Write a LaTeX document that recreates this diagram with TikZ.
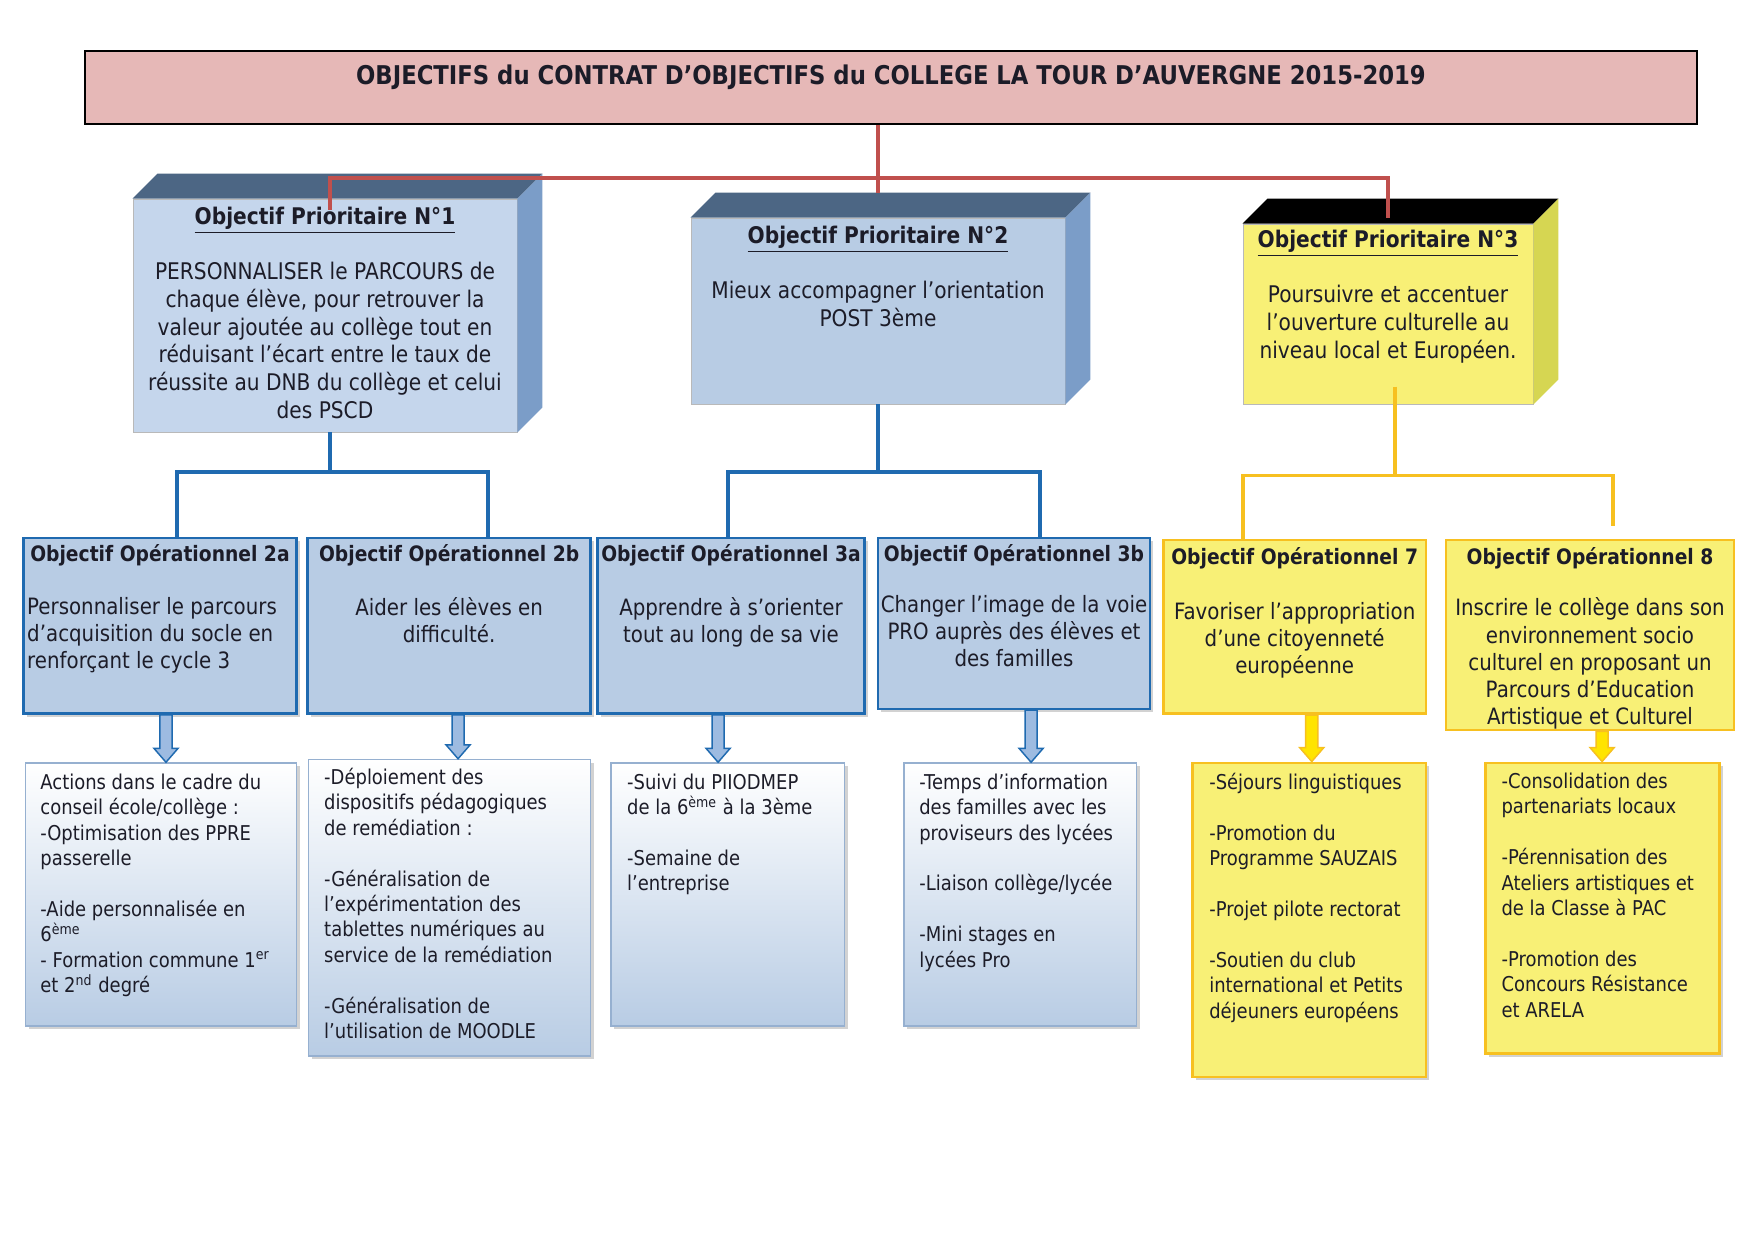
\documentclass[tikz,border=0pt]{standalone}
\usepackage{fontspec}
\setmainfont{DejaVu Sans}[FakeStretch=0.88]
\usetikzlibrary{positioning,calc,fit,shadows}

\definecolor{titrefond}{RGB}{230,184,183}
\definecolor{rouge}{RGB}{192,80,77}
\definecolor{bleuface}{RGB}{197,214,236}
\definecolor{bleuface2}{RGB}{184,204,228}
\definecolor{bleudessus}{RGB}{76,102,132}
\definecolor{bleucote}{RGB}{123,157,200}
\definecolor{bleutrait}{RGB}{31,106,176}
\definecolor{bleubord}{RGB}{150,176,208}
\definecolor{bleufleche}{RGB}{157,187,225}
\definecolor{jaune}{RGB}{248,240,118}
\definecolor{jaunecote}{RGB}{214,214,82}
\definecolor{jaunetrait}{RGB}{247,192,32}
\definecolor{jaunefleche}{RGB}{255,228,0}
\definecolor{encre}{RGB}{28,28,40}

\tikzset{
  titrebox/.style={draw=black, line width=0.8pt, fill=titrefond, inner sep=0pt},
  face/.style={draw=gray!55, line width=0.4pt, inner sep=0pt},
  opbleu/.style={draw=bleutrait, line width=1.2pt, fill=bleuface2, inner sep=0pt,
    drop shadow={shadow xshift=1.6pt, shadow yshift=-1.6pt, opacity=0.35}},
  opjaune/.style={draw=jaunetrait, line width=1.4pt, fill=jaune, inner sep=0pt},
  actbleu/.style={draw=bleubord, line width=0.7pt, top color=white, bottom color=bleuface2, inner sep=0pt,
    drop shadow={shadow xshift=1.6pt, shadow yshift=-1.6pt, opacity=0.35}},
  actjaune/.style={draw=jaunetrait, line width=1.4pt, fill=jaune, inner sep=0pt,
    drop shadow={shadow xshift=1.6pt, shadow yshift=-1.6pt, opacity=0.35}},
  titretexte/.style={inner sep=0pt, text=encre, font=\fontsize{12.4}{14}\selectfont\bfseries},
  ptexte/.style={inner sep=0pt, align=center, text=encre, font=\fontsize{11}{13.3}\selectfont},
  optitre/.style={inner sep=0pt, text=encre, font=\fontsize{10.2}{13}\selectfont\bfseries},
  optexte/.style={inner sep=0pt, text=encre, font=\fontsize{10.8}{13}\selectfont},
  acttexte/.style={inner sep=0pt, align=left, anchor=north west, text=encre, font=\fontsize{9.8}{12.2}\selectfont},
  rougetrait/.style={draw=rouge, line width=1.9pt},
  bleuligne/.style={draw=bleutrait, line width=1.9pt},
  jauneligne/.style={draw=jaunetrait, line width=1.9pt},
  flechebleue/.style={draw=bleutrait, line width=0.7pt, fill=bleufleche},
  flechejaune/.style={draw=jaunetrait, line width=0.7pt, fill=jaunefleche},
}

\begin{document}
\begin{tikzpicture}[x=0.48pt, y=-0.48pt]
\path[use as bounding box, fill=white] (0,0) rectangle (1754,1240);

% titre
\node[titrebox, fit={(85,51) (1697,124)}] (titre) {};
\node[titretexte, below=7pt of titre.north] (titre-t)
  {OBJECTIFS du CONTRAT D’OBJECTIFS du COLLEGE LA TOUR D’AUVERGNE 2015-2019};

% objectifs prioritaires (blocs en relief)
\node[face, fill=bleuface, fit={(133,199) (517,432)}] (p1) {};
\fill[bleudessus] (p1.north west) -- ++(25,-25) -- ($(p1.north east)+(25,-25)$) -- (p1.north east) -- cycle;
\fill[bleucote] (p1.north east) -- ++(25,-25) -- ($(p1.south east)+(25,-25)$) -- (p1.south east) -- cycle;
\node[ptexte, below=3.8pt of p1.north] (p1-t)
  {\underline{\textbf{Objectif Prioritaire N°1}}\\[13.3pt]
   PERSONNALISER le PARCOURS de\\chaque élève, pour retrouver la\\valeur ajoutée au collège tout en\\
   réduisant l’écart entre le taux de\\réussite au DNB du collège et celui\\des PSCD};

\node[face, fill=bleuface2, fit={(691,218) (1065,404)}] (p2) {};
\fill[bleudessus] (p2.north west) -- ++(25,-25) -- ($(p2.north east)+(25,-25)$) -- (p2.north east) -- cycle;
\fill[bleucote] (p2.north east) -- ++(25,-25) -- ($(p2.south east)+(25,-25)$) -- (p2.south east) -- cycle;
\node[ptexte, below=3.8pt of p2.north] (p2-t)
  {\underline{\textbf{Objectif Prioritaire N°2}}\\[13.3pt]
   Mieux accompagner l’orientation\\POST 3ème};

\node[face, fill=jaune, fit={(1243,224) (1533,404)}] (p3) {};
\fill[black] (p3.north west) -- ++(25,-25) -- ($(p3.north east)+(25,-25)$) -- (p3.north east) -- cycle;
\fill[jaunecote] (p3.north east) -- ++(25,-25) -- ($(p3.south east)+(25,-25)$) -- (p3.south east) -- cycle;
\node[ptexte, below=2.9pt of p3.north] (p3-t)
  {\underline{\textbf{Objectif Prioritaire N°3}}\\[13.3pt]
   Poursuivre et accentuer\\l’ouverture culturelle au\\niveau local et Européen.};

% objectifs operationnels
\node[opbleu, fit={(23.5,538) (296.4,713.7)}] (o2a) {};
\node[opbleu, fit={(307.6,538) (590.6,713.7)}] (o2b) {};
\node[opbleu, fit={(597.3,538) (864.7,713.7)}] (o3a) {};
\node[opbleu, fit={(878,538) (1150,709)}] (o3b) {};
\node[opjaune, fit={(1163.3,540) (1426,713.7)}] (o7) {};
\node[opjaune, fit={(1446,540) (1734,730)}] (o8) {};

\node[optitre, below=3.4pt of o2a.north] (o2a-t) {Objectif Opérationnel 2a};
\node[optexte, align=left, anchor=north west] (o2a-b) at ([xshift=2.2pt, yshift=-28.8pt]o2a.north west)
  {Personnaliser le parcours\\d’acquisition du socle en\\renforçant le cycle 3};
\node[optexte, align=center, below=3.4pt of o2b.north] (o2b-t)
  {\textbf{\fontsize{10.2}{13}\selectfont Objectif Opérationnel 2b}\\[13pt]Aider les élèves en\\difficulté.};
\node[optexte, align=center, below=3.4pt of o3a.north] (o3a-t)
  {\textbf{\fontsize{10.2}{13}\selectfont Objectif Opérationnel 3a}\\[13pt]Apprendre à s’orienter\\tout au long de sa vie};
\node[optexte, align=center, below=3.4pt of o3b.north] (o3b-t)
  {\textbf{\fontsize{10.2}{13}\selectfont Objectif Opérationnel 3b}\\[11.5pt]Changer l’image de la voie\\PRO auprès des élèves et\\des familles};
\node[optexte, align=center, below=4.3pt of o7.north] (o7-t)
  {\textbf{\fontsize{10.2}{13}\selectfont Objectif Opérationnel 7}\\[13pt]Favoriser l’appropriation\\d’une citoyenneté\\européenne};
\node[optexte, align=center, below=4.3pt of o8.north] (o8-t)
  {\textbf{\fontsize{10.2}{13}\selectfont Objectif Opérationnel 8}\\[11.5pt]Inscrire le collège dans son\\environnement socio\\culturel en proposant un\\Parcours d’Education\\Artistique et Culturel};

% actions
\node[actbleu, fit={(25.7,763) (296.4,1025.8)}] (a1) {};
\node[actbleu, fit={(308.7,759.5) (590.6,1056)}] (a2) {};
\node[actbleu, fit={(610.8,763) (844.5,1025.8)}] (a3) {};
\node[actbleu, fit={(903.8,763) (1136.5,1025.8)}] (a4) {};
\node[actjaune, fit={(1192.4,763) (1426,1077)}] (a5) {};
\node[actjaune, fit={(1485.5,763) (1719.3,1053.7)}] (a6) {};

\node[acttexte] (a1-t) at ([xshift=7.2pt, yshift=-5.3pt]a1.north west)
  {Actions dans le cadre du\\conseil école/collège :\\-Optimisation des PPRE\\passerelle\\[12.2pt]
   -Aide personnalisée en\\6\textsuperscript{ème}\\- Formation commune 1\textsuperscript{er}\\et 2\textsuperscript{nd} degré};
\node[acttexte] (a2-t) at ([xshift=7.6pt, yshift=-4.3pt]a2.north west)
  {-Déploiement des\\dispositifs pédagogiques\\de remédiation :\\[12.2pt]
   -Généralisation de\\l’expérimentation des\\tablettes numériques au\\service de la remédiation\\[12.2pt]
   -Généralisation de\\l’utilisation de MOODLE};
\node[acttexte] (a3-t) at ([xshift=8pt, yshift=-5.3pt]a3.north west)
  {-Suivi du PIIODMEP\\de la 6\textsuperscript{ème} à la 3ème\\[12.2pt]-Semaine de\\l’entreprise};
\node[acttexte] (a4-t) at ([xshift=7.6pt, yshift=-5.3pt]a4.north west)
  {-Temps d’information\\des familles avec les\\proviseurs des lycées\\[12.2pt]
   -Liaison collège/lycée\\[12.2pt]-Mini stages en\\lycées Pro};
\node[acttexte] (a5-t) at ([xshift=8.6pt, yshift=-5.3pt]a5.north west)
  {-Séjours linguistiques\\[12.2pt]-Promotion du\\Programme SAUZAIS\\[12.2pt]
   -Projet pilote rectorat\\[12.2pt]-Soutien du club\\international et Petits\\déjeuners européens};
\node[acttexte] (a6-t) at ([xshift=8.2pt, yshift=-5.3pt]a6.north west)
  {-Consolidation des\\partenariats locaux\\[12.2pt]-Pérennisation des\\Ateliers artistiques et\\
   de la Classe à PAC\\[12.2pt]-Promotion des\\Concours Résistance\\et ARELA};

% liaisons rouges
\coordinate (bus) at (878,178);
\draw[rougetrait] (titre.south -| p2.north) -- ($(p2.north)+(0,-25)$);
\draw[rougetrait] ($(p1.north)+(5,11)$) |- (bus) -| ($(p3.north)+(0,-6)$);

% liaisons bleues et jaunes
\draw[bleuligne] ([xshift=2.4pt]p1.south) -- ++(0,40) coordinate (j1);
\draw[bleuligne] ([xshift=8.4pt]o2a.north) |- (j1) -| ([xshift=18.5pt]o2b.north);
\draw[bleuligne] (p2.south) -- ++(0,68) coordinate (j2);
\draw[bleuligne] ([xshift=-1.4pt]o3a.north) |- (j2) -| ([xshift=12.5pt]o3b.north);
\draw[jauneligne] ([xshift=3.4pt, yshift=8.6pt]p3.south) -- ++(0,89) coordinate (j3);
\draw[jauneligne] ([xshift=-24.7pt]o7.north) |- (j3) -| ([xshift=11pt, yshift=5.8pt]o8.north);

% fleches vers les actions
\foreach \o/\a/\dx/\s in {o2a/a1/2.9pt/flechebleue, o2b/a2/4.3pt/flechebleue, o3a/a3/-6.2pt/flechebleue,
    o3b/a4/8.2pt/flechebleue, o7/a5/8.2pt/flechejaune, o8/a6/5.8pt/flechejaune}
  \draw[\s] let \p1=([xshift=\dx]\o.south), \p2=(\a.north) in
    (\x1-2.9pt,\y1) -- (\x1+2.9pt,\y1) -- (\x1+2.9pt,\y2+6.7pt) -- (\x1+5.8pt,\y2+6.7pt)
    -- (\x1,\y2) -- (\x1-5.8pt,\y2+6.7pt) -- (\x1-2.9pt,\y2+6.7pt) -- cycle;
\end{tikzpicture}
\end{document}
